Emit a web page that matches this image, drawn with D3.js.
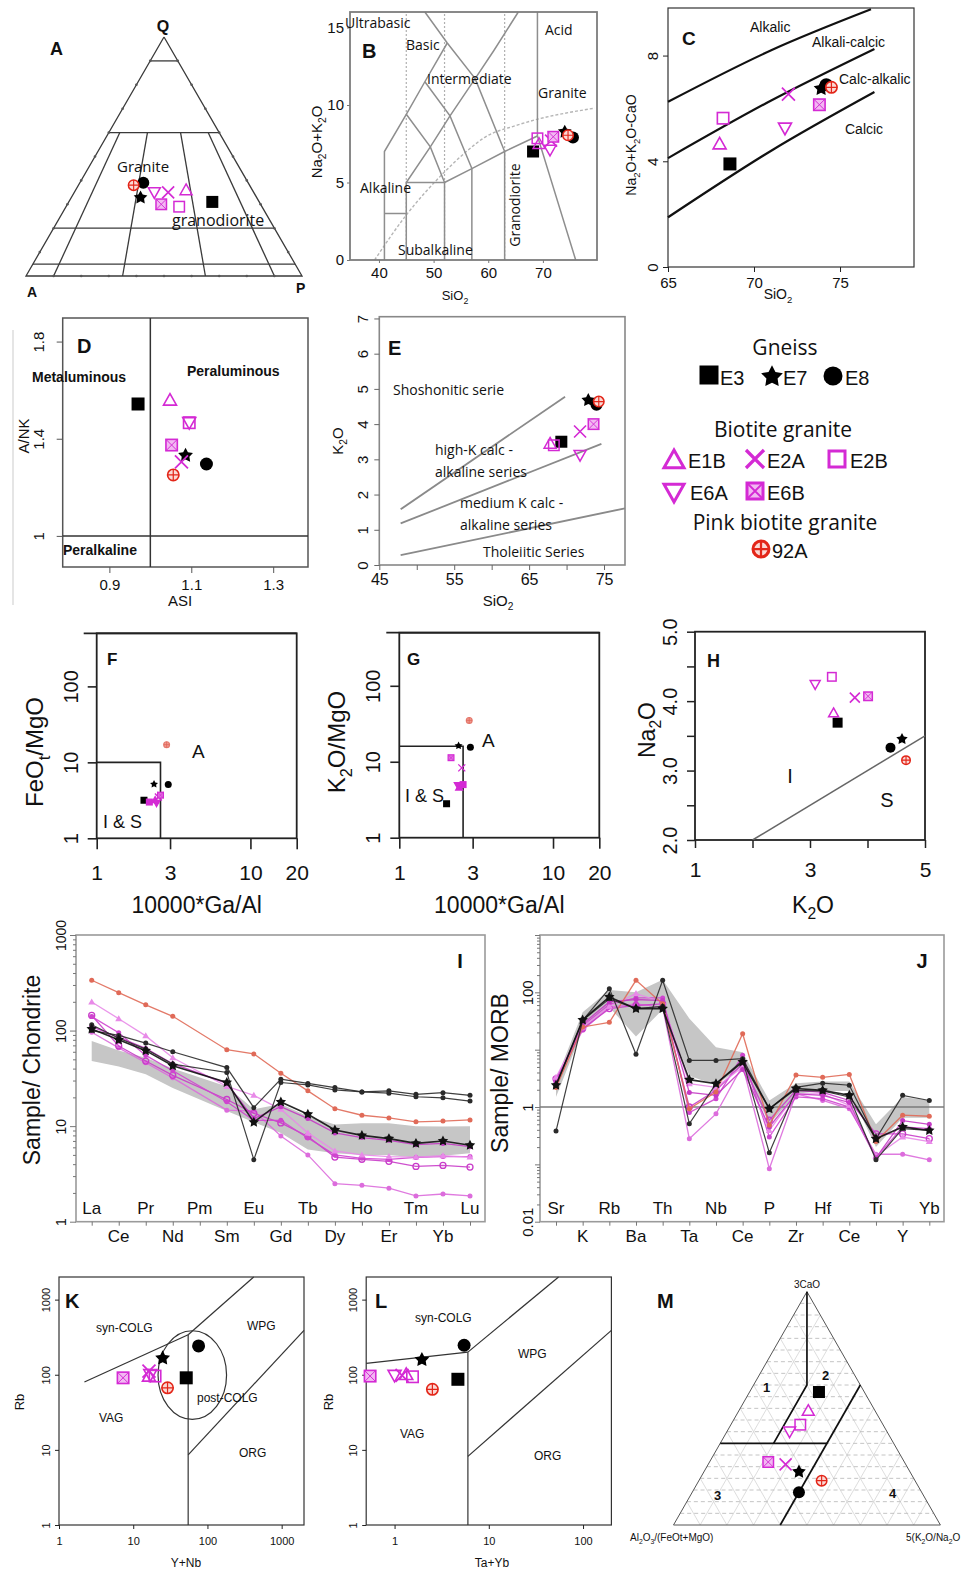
<!DOCTYPE html>
<html><head><meta charset="utf-8">
<script src="https://cdn.jsdelivr.net/npm/d3@7"></script>
<style>body{margin:0;background:#fff}svg{display:block}</style>
</head><body><svg id="c" width="973" height="1571"></svg>
<script>
// ================= DATA =================
const samples = ["E3","E7","E8","E1B","E2A","E2B","E6A","E6B","92A"];
// A: QAP ternary (Q, A, P %)
const qapQ = [31,33,39,36,35,29,35,30,38];
const qapA = [17,42,38,24,31,30,36,36,42];
const qapP = [52,25,23,40,34,41,29,34,20];
const qapHoriz = [90,60,20,5];
const qapRatios = [10,35,65,90];
// B: TAS
const tasSiO2 = [68.2,74.0,75.5,69.3,71.5,69.0,71.3,71.9,74.6];
const tasAlk  = [7.0,8.3,7.9,7.5,7.7,7.85,7.1,7.95,8.05];
const tasDotted = [45,52,63];
const tasLines = [
  [[41,0],[41,7],[45,9.4],[48.4,11.5],[52.5,14]],
  [[48.4,16],[52.5,14],[57.6,11.7],[63,7]],
  [[45,9.4],[49.4,7.3],[52,5]],
  [[48.4,11.5],[53,9.3],[57,5.9]],
  [[41,3],[45,3]],
  [[45,0],[45,5],[52,5],[52,0]],
  [[57,0],[57,5.9]],
  [[63,0],[63,7]],
  [[52,5],[57,5.9],[63,7],[69,8]],
  [[69,16],[69,8],[76,0]],
  [[45,5],[49.4,7.3],[53,9.3],[57.6,11.7],[61,13.5],[65.5,16]]
];
const tasIrvine = [[39.2,0],[45,2.9],[51.5,5.5],[56,7.0],[59.3,7.9],[65.3,8.7],[79.5,9.8]];
// C: MALI
const maliSiO2 = [68.6,73.9,74.2,68.0,72.0,68.2,71.8,73.8,74.5];
const maliVal  = [3.9,6.77,6.9,4.66,6.54,5.63,5.25,6.14,6.8];
const maliBounds = [
  [[65,6.25],[71,8.2],[76.8,9.75]],
  [[65,4.12],[71,6.3],[77,8.25]],
  [[65,1.88],[71,4.4],[77,6.62]]
];
// D: A/NK vs ASI
const asi = [0.970,1.086,1.137,1.048,1.076,1.095,1.095,1.052,1.056];
const ank = [1.543,1.333,1.296,1.559,1.305,1.466,1.466,1.374,1.251];
// E: K2O vs SiO2
const eSiO2 = [69.3,72.9,74.0,67.8,71.8,68.3,71.8,73.6,74.3];
const eK2O  = [3.5,4.69,4.55,3.45,3.79,3.4,3.12,4.0,4.64];
const eBounds = [
  [[47.85,1.58],[69.8,4.78]],
  [[47.85,1.18],[74.65,3.44]],
  [[47.85,0.28],[77.8,1.61]]
];
// F: FeOt/MgO vs 10000*Ga/Al
const fGaAl  = [2.03,2.36,2.92,2.4,2.52,2.2,2.45,2.6,2.85];
const fFeMg  = [3.17,5.2,5.1,3.2,3.5,3.0,2.9,3.7,17.1];
// G: K2O/MgO vs 10000*Ga/Al
const gGaAl  = [2.03,2.43,2.9,2.45,2.55,2.6,2.4,2.17,2.85];
const gKMg   = [2.8,16.4,15.5,4.6,8.3,5.0,4.9,11.3,35];
// H: Na2O vs K2O
const hK2O  = [3.48,4.6,4.4,3.41,3.78,3.38,3.09,4.01,4.67];
const hNa2O = [3.69,3.46,3.33,3.83,4.05,4.35,4.24,4.07,3.15];
const hLine = [[2,2],[5,3.5]];
// I: REE / chondrite
const reeLabels = ["La","Ce","Pr","Nd","Pm","Sm","Eu","Gd","Tb","Dy","Ho","Er","Tm","Yb","Lu"];
const reeE3  = [100,89,74,60,null,41,15.6,31,28,25.3,22.8,23.4,21.5,22.4,21];
const reeE8  = [115,83,64,44.6,null,36.4,4.46,28.6,27,23.9,22.8,22.1,20.3,19.8,18.3];
const reeE7  = [104,80,61.6,42.8,null,28.6,11,17.9,13.3,9.1,8.0,7.4,6.6,7.0,6.3];
const ree92A = [336,249,186,141,null,63,57,35.8,23.4,15.2,13,12.2,11.1,11.3,11.6];
const reeE1B = [199,133,88,52,null,26,21,15,8.5,5.5,5.0,4.8,4.75,4.9,4.75];
const reeE6A = [96,66,46,32,null,14.7,14.4,7.9,5.0,2.5,2.4,2.24,1.86,1.95,1.86];
const reeE2B = [144,69,48,34,null,19,13.6,10.8,7.8,4.75,4.5,4.28,3.79,3.88,3.73];
const reeE6B = [110,85,65,45,null,28,12,16,12,8.5,7.6,7.1,6.4,6.6,6.1];
const reeE2A = [140,95,55,38,null,18,11.5,11.5,7.5,5.0,4.6,4.5,4.7,4.8,4.8];
const reeBandHi = [78,62,52,40,null,26,15,17,12.7,10.4,10.7,10.7,10,9.9,10];
const reeBandLo = [48,42,35,25,null,14.4,11,8.5,5.7,5.2,5.0,5.0,4.7,4.9,5.2];
// J: spider / MORB
const morbLabels = ["Sr","K","Rb","Ba","Th","Ta","Nb","Ce","P","Zr","Hf","Ce","Ti","Y","Yb"];
const morbE3  = [2.4,32.5,116,8.3,162,6.5,6.5,6.97,0.93,2.2,2.6,2.4,0.28,1.6,1.3];
const morbE8  = [0.38,32.5,77,52,57,0.51,2.55,6.5,0.16,1.95,1.9,1.5,0.12,0.42,0.39];
const morbE7  = [2.4,33,83,52,52,3.0,2.55,6.1,0.93,2.1,1.95,1.6,0.28,0.45,0.39];
const morb92A = [2.2,24.9,30,162,63,0.93,1.83,19,0.48,3.6,3.3,3.7,0.25,0.72,0.69];
const morbE1B = [3.3,24.9,57,95,68,2.55,2.2,5.0,0.39,1.7,1.7,1.07,0.14,0.3,0.25];
const morbE6A = [2.9,21.8,55,63,55,0.28,0.76,5.3,0.084,1.7,1.3,0.93,0.15,0.15,0.12];
const morbE2B = [3.1,23.3,52,59,63,1.0,1.95,5.7,0.59,1.95,1.8,1.3,0.34,0.34,0.28];
const morbE6B = [2.6,28,68,75,72,1.8,1.6,4.5,0.45,1.7,1.6,1.2,0.13,0.58,0.5];
const morbE2A = [2.8,26,62,80,80,0.8,1.4,8,0.3,1.5,1.4,1.0,0.13,0.45,0.42];
const morbBandHi = [3.0,45,110,100,165,35,11,9,1.3,2.6,2.8,2.8,0.5,1.5,1.3];
const morbBandLo = [1.5,22,55,17,50,3.5,2.4,5.2,0.5,1.7,1.9,1.9,0.2,0.65,0.65];
// K: Rb vs Y+Nb
const kYNb = [51.8,24.9,76,16.3,16.3,19.7,17,7.3,29];
const kRb  = [91,169,242,96,112,96,100,91,67];
const kLines = [
  [[2.2,80],[55,340]],
  [[55,340],[420,2000]],
  [[55,1],[55,340]],
  [[55,8.6],[2000,390]]
];
const kEllipse = {xmin:21.6, xmax:181, ymin:25.4, ymax:385};
// L: Rb vs Ta+Yb
const lTaYb = [4.7,1.95,5.47,1.33,1.2,1.55,1.0,0.55,2.52];
const lRb   = [87,161,247,101,98,94,98,96,64];
const lLines = [
  [[0.5,142],[6,200]],
  [[6,200],[55,2000]],
  [[6,1],[6,200]],
  [[6,8.2],[200,390]]
];
// M: ternary 3CaO / Al2O3/(FeOt+MgO) / 5(K2O/Na2O)
const mCaO = [57,23,14,49,26,43,40,27,19];
const mKNa = [26,35.5,40,26,29,26,23.5,22,46];
const mAl  = [17,41.5,46,25,45,31,36.5,51,35];
const mBounds = [
  [[100,0],[60,20],[35,20]],
  [[35,0],[35,40]],
  [[60,40],[0,40]]
];

// ================= HELPERS =================
const svg = d3.select("#c");
svg.append("rect").attr("width",973).attr("height",1571).attr("fill","#fff");
const SANS = "'Liberation Sans', Arial, sans-serif";
const CAL = "'Open Sans', 'Noto Sans', sans-serif";
const NAR = "'Liberation Sans Narrow','Liberation Sans',Arial,sans-serif";
const MAG = "#d42ad4", RED = "#e32619";

function txt(g, x, y, s, o={}) {
  const size = o.size||14;
  const t = g.append("text").attr("x",x).attr("y",y).attr("font-family",o.font||SANS)
    .attr("font-size",size).attr("fill",o.fill||"#111").attr("text-anchor",o.anchor||"start");
  if (o.bold) t.attr("font-weight","bold");
  if (o.rot) t.attr("transform",`rotate(-90,${x},${y})`);
  if (Array.isArray(s)) {
    let shift = 0;
    s.forEach(p => {
      const sub = Array.isArray(p);
      const ts = t.append("tspan").text(sub?p[0]:p);
      const want = sub ? size*0.28 : 0;
      if (want !== shift) { ts.attr("dy", want-shift); shift = want; }
      if (sub) ts.attr("font-size", size*0.68);
    });
  } else t.text(s);
  return t;
}
function starPath(cx, cy, R, r) {
  const p = [];
  for (let i=0;i<10;i++){ const a=-Math.PI/2+i*Math.PI/5, rr=i%2?r:R; p.push([cx+rr*Math.cos(a), cy+rr*Math.sin(a)]); }
  return "M"+p.map(d=>d[0].toFixed(2)+","+d[1].toFixed(2)).join("L")+"Z";
}
function marker(g, s, x, y, sz, o={}) {
  const h = sz/2, sw = o.sw || Math.max(1.3, sz/8);
  const mini = o.mini;
  if (s==="E3") g.append("rect").attr("x",x-h).attr("y",y-h).attr("width",sz).attr("height",sz).attr("fill","#000");
  else if (s==="E7") g.append("path").attr("d",starPath(x,y+h*0.08,h*1.2,h*0.62)).attr("fill","#000");
  else if (s==="E8") g.append("circle").attr("cx",x).attr("cy",y).attr("r",h).attr("fill","#000");
  else if (s==="E1B") g.append("path").attr("d",`M${x},${y-h}L${x+h},${y+h*0.78}L${x-h},${y+h*0.78}Z`)
      .attr("fill",mini?MAG:"none").attr("stroke",MAG).attr("stroke-width",sw).attr("stroke-linejoin","miter");
  else if (s==="E6A") g.append("path").attr("d",`M${x},${y+h}L${x+h},${y-h*0.78}L${x-h},${y-h*0.78}Z`)
      .attr("fill",mini?MAG:"none").attr("stroke",MAG).attr("stroke-width",sw);
  else if (s==="E2A") g.append("path").attr("d",`M${x-h},${y-h}L${x+h},${y+h}M${x-h},${y+h}L${x+h},${y-h}`)
      .attr("stroke",MAG).attr("stroke-width",sw*1.1);
  else if (s==="E2B") g.append("rect").attr("x",x-h+sw/2).attr("y",y-h+sw/2).attr("width",sz-sw).attr("height",sz-sw)
      .attr("fill",mini?MAG:"none").attr("stroke",MAG).attr("stroke-width",sw);
  else if (s==="E6B") {
    const q = h-sw/2;
    g.append("rect").attr("x",x-q).attr("y",y-q).attr("width",2*q).attr("height",2*q)
      .attr("fill",mini?"#e070e0":"#f2b8f2").attr("stroke",MAG).attr("stroke-width",sw);
    g.append("path").attr("d",`M${x-q},${y-q}L${x+q},${y+q}M${x-q},${y+q}L${x+q},${y-q}`).attr("stroke",MAG).attr("stroke-width",sw*0.6);
  } else if (s==="92A") {
    const q = h-sw/2;
    if (mini) {
      g.append("circle").attr("cx",x).attr("cy",y).attr("r",q).attr("fill","#f19a90").attr("stroke","#e57a6e").attr("stroke-width",sw);
      g.append("path").attr("d",`M${x-q},${y}L${x+q},${y}M${x},${y-q}L${x},${y+q}`).attr("stroke","#e0685c").attr("stroke-width",0.8);
    } else {
      g.append("circle").attr("cx",x).attr("cy",y).attr("r",q).attr("fill","#fbd8d4").attr("stroke",RED).attr("stroke-width",sw);
      g.append("path").attr("d",`M${x-q},${y}L${x+q},${y}M${x},${y-q}L${x},${y+q}`).attr("stroke",RED).attr("stroke-width",sw*0.75);
    }
  }
}
function axisX(g, scale, y, vals, fmt, o={}) {
  const len=o.len??5, pad=o.pad??3;
  const a = g.append("g").attr("transform",`translate(0,${y})`)
    .call(d3.axisBottom(scale).tickValues(vals).tickFormat(fmt).tickSize(len).tickPadding(pad).tickSizeOuter(0));
  a.select(".domain").remove();
  a.selectAll("line").attr("stroke",o.color||"#222").attr("stroke-width",o.sw||1);
  a.selectAll("text").attr("font-size",o.size||14).attr("font-family",o.font||SANS).attr("fill",o.fill||"#111");
  return a;
}
function axisY(g, scale, x, vals, fmt, o={}) {
  const len=o.len??5, pad=o.pad??3;
  const a = g.append("g").attr("transform",`translate(${x},0)`)
    .call(d3.axisLeft(scale).tickValues(vals).tickFormat(fmt).tickSize(len).tickPadding(pad).tickSizeOuter(0));
  a.select(".domain").remove();
  a.selectAll("line").attr("stroke",o.color||"#222").attr("stroke-width",o.sw||1);
  const t = a.selectAll("text").attr("font-size",o.size||14).attr("font-family",o.font||SANS).attr("fill",o.fill||"#111");
  if (o.rot!==false) t.attr("transform","rotate(-90)").attr("x",0).attr("y",-(len+pad)).attr("dy",0).attr("text-anchor","middle");
  return a;
}
function box(g, xs, ys, color, w) {
  g.append("rect").attr("x",Math.min(...xs)).attr("y",Math.min(...ys))
    .attr("width",Math.abs(xs[1]-xs[0])).attr("height",Math.abs(ys[1]-ys[0]))
    .attr("fill","none").attr("stroke",color).attr("stroke-width",w);
}
function poly(g, line, pts, color, w, dash) {
  const p = g.append("path").attr("d",line(pts)).attr("fill","none").attr("stroke",color).attr("stroke-width",w);
  if (dash) p.attr("stroke-dasharray",dash);
  return p;
}
const idx = d3.range(samples.length);

// ================= A: QAP =================
{
  const g = svg.append("g");
  const tX = d3.scaleLinear([0,100],[26,302]), tY = d3.scaleLinear([0,100],[276,37]);
  const tp = (q,p) => [tX(p+q/2), tY(q)];
  const L = d3.line();
  const col = "#3a3a3a";
  poly(g, L, [tp(100,0),tp(0,0),tp(0,100),tp(100,0)], col, 1.3);
  qapHoriz.forEach(q => poly(g, L, [tp(q,0),tp(q,100-q)], col, 1.3));
  qapRatios.forEach(r => poly(g, L, [tp(60,40*r/100),tp(0,r)], col, 1.3));
  d3.range(1,10).forEach(i => {
    const q=i*10;
    [tp(q,0),tp(q,100-q),tp(0,q)].forEach(p=>g.append("circle").attr("cx",p[0]).attr("cy",p[1]).attr("r",1.3).attr("fill","#555"));
  });
  txt(g,163,32,"Q",{bold:true,size:16,anchor:"middle"});
  txt(g,27,297,"A",{bold:true,size:14});
  txt(g,296,293,"P",{bold:true,size:14});
  txt(g,50,55,"A",{bold:true,size:18});
  txt(g,117,172,"Granite",{font:CAL,size:15});
  txt(g,172,226,"granodiorite",{font:CAL,size:16});
  idx.forEach(i => { const p = tp(qapQ[i], qapP[i]*100/(qapQ[i]+qapA[i]+qapP[i])); marker(g, samples[i], p[0], p[1], 12); });
}

// ================= B: TAS =================
{
  const g = svg.append("g");
  const x = d3.scaleLinear([34.7,79.9],[350,597]), y = d3.scaleLinear([0,16],[260,12]);
  const L = d3.line().x(d=>x(d[0])).y(d=>y(d[1]));
  tasDotted.forEach(v => poly(g, L, [[v,0],[v,16]], "#b0b0b0", 1.2, "2,2"));
  poly(g, d3.line().curve(d3.curveMonotoneX).x(d=>x(d[0])).y(d=>y(d[1])), tasIrvine, "#b5b5b5", 1.4, "3,2");
  tasLines.forEach(l => poly(g, L, l, "#8e8e8e", 1.5));
  box(g, [350,597], [12,260], "#7d7d7d", 1.8);
  axisX(g, x, 260, [40,50,60,70], d=>d, {len:3, pad:4, size:15, color:"#777"});
  axisY(g, y, 350, [0,5,10,15], d=>d, {len:3, pad:3, size:15, rot:false, color:"#777"});
  txt(g,322,142,["Na",["2"],"O+K",["2"],"O"],{rot:true,size:15,anchor:"middle"});
  txt(g,455,300,["SiO",["2"]],{size:13,anchor:"middle"});
  txt(g,345,28,"Ultrabasic",{font:CAL,size:14});
  txt(g,406,50,"Basic",{font:CAL,size:14});
  txt(g,427,84,"Intermediate",{font:CAL,size:14});
  txt(g,545,35,"Acid",{font:CAL,size:14});
  txt(g,538,98,"Granite",{font:CAL,size:14});
  txt(g,360,193,"Alkaline",{font:CAL,size:14});
  txt(g,398,255,"Subalkaline",{font:CAL,size:14});
  txt(g,520,205,"Granodiorite",{font:CAL,size:14,rot:true,anchor:"middle"});
  txt(g,362,58,"B",{bold:true,size:20});
  idx.forEach(i => marker(g, samples[i], x(tasSiO2[i]), y(tasAlk[i]), 12));
}

// ================= C: MALI =================
{
  const g = svg.append("g");
  const x = d3.scaleLinear([65,79.3],[668,914]), y = d3.scaleLinear([0,9.8],[267,8]);
  const L = d3.line().curve(d3.curveMonotoneX).x(d=>x(d[0])).y(d=>y(d[1]));
  box(g, [668,914], [8,267], "#333", 1.2);
  maliBounds.forEach(b => poly(g, L, b, "#111", 2.2));
  axisX(g, x, 267, [65,70,75], d=>d, {len:5, pad:5, size:15});
  axisY(g, y, 668, [0,4,8], d=>d, {len:5, pad:5, size:15});
  txt(g,636,145,["Na",["2"],"O+K",["2"],"O-CaO"],{rot:true,size:14,anchor:"middle"});
  txt(g,778,299,["SiO",["2"]],{size:14,anchor:"middle"});
  txt(g,750,32,"Alkalic",{size:14});
  txt(g,812,47,"Alkali-calcic",{size:14});
  txt(g,839,84,"Calc-alkalic",{size:14});
  txt(g,845,134,"Calcic",{size:14});
  txt(g,682,45,"C",{bold:true,size:19});
  idx.forEach(i => marker(g, samples[i], x(maliSiO2[i]), y(maliVal[i]), 13));
}

// ================= D: A/NK vs ASI =================
{
  const g = svg.append("g");
  const x = d3.scaleLinear([0.786,1.385],[62.7,308]), y = d3.scaleLinear([0.872,1.897],[567,318]);
  const L = d3.line().x(d=>x(d[0])).y(d=>y(d[1]));
  g.append("line").attr("x1",13).attr("x2",13).attr("y1",330).attr("y2",605).attr("stroke","#ddd").attr("stroke-width",1.5);
  box(g, [62.7,308], [318,567], "#555", 1.5);
  poly(g, L, [[1,0.872],[1,1.897]], "#333", 1.5);
  poly(g, L, [[0.786,1],[1.385,1]], "#333", 1.5);
  axisX(g, x, 567, [0.9,1.1,1.3], d=>d.toFixed(1), {len:6, pad:6, size:15, color:"#555"});
  axisY(g, y, 62.7, [1,1.4,1.8], d=>d===1?"1":d.toFixed(1), {len:6, pad:13, size:15, color:"#555"});
  txt(g,29,436,"A/NK",{rot:true,size:15,anchor:"middle"});
  txt(g,180,606,"ASI",{size:15,anchor:"middle"});
  txt(g,77,353,"D",{bold:true,size:20});
  txt(g,32,382,"Metaluminous",{bold:true,size:14});
  txt(g,187,376,"Peraluminous",{bold:true,size:14});
  txt(g,63,555,"Peralkaline",{bold:true,size:14});
  idx.forEach(i => marker(g, samples[i], x(asi[i]), y(ank[i]), 13));
}

// ================= E: K2O vs SiO2 =================
{
  const g = svg.append("g");
  const x = d3.scaleLinear([45,77.8],[379.3,625]), y = d3.scaleLinear([0,7.05],[565,316.7]);
  const L = d3.line().x(d=>x(d[0])).y(d=>y(d[1]));
  box(g, [379.3,625], [316.7,565], "#888", 1.6);
  eBounds.forEach(b => poly(g, L, b, "#8a8a8a", 1.8));
  axisX(g, x, 565, [45,50,55,60,65,70,75], d=>(d-45)%10===0?d:"", {len:5, pad:4, size:16, color:"#666"});
  axisY(g, y, 379.3, [0,1,2,3,4,5,6,7], d=>d, {len:5, pad:6, size:15, color:"#666"});
  txt(g,343,441,["K",["2"],"O"],{rot:true,size:15,anchor:"middle"});
  txt(g,498,606,["SiO",["2"]],{size:15,anchor:"middle"});
  txt(g,393,395,"Shoshonitic serie",{font:CAL,size:14});
  txt(g,435,455,"high-K calc -",{font:CAL,size:14});
  txt(g,435,477,"alkaline series",{font:CAL,size:14});
  txt(g,460,508,"medium K calc -",{font:CAL,size:14});
  txt(g,460,530,"alkaline series",{font:CAL,size:14});
  txt(g,483,557,"Tholeiitic Series",{font:CAL,size:14});
  txt(g,388,355,"E",{bold:true,size:20});
  idx.forEach(i => marker(g, samples[i], x(eSiO2[i]), y(eK2O[i]), 12));
}

// ================= Legend =================
{
  const g = svg.append("g");
  txt(g,785,355,"Gneiss",{font:CAL,size:21,anchor:"middle"});
  marker(g,"E3",709,375,19); txt(g,720,385,"E3",{size:20});
  marker(g,"E7",772,376,19); txt(g,783,385,"E7",{size:20});
  marker(g,"E8",833,376,19); txt(g,845,385,"E8",{size:20});
  txt(g,783,437,"Biotite granite",{font:CAL,size:21,anchor:"middle"});
  marker(g,"E1B",674,460,20,{sw:3}); txt(g,688,468,"E1B",{size:20});
  marker(g,"E2A",755,459,18,{sw:3}); txt(g,767,468,"E2A",{size:20});
  marker(g,"E2B",837,459,19,{sw:3}); txt(g,850,468,"E2B",{size:20});
  marker(g,"E6A",674,492,20,{sw:3}); txt(g,690,500,"E6A",{size:20});
  marker(g,"E6B",755,491,19,{sw:3}); txt(g,767,500,"E6B",{size:20});
  txt(g,785,530,"Pink biotite granite",{font:CAL,size:21,anchor:"middle"});
  marker(g,"92A",761,549,19,{sw:3}); txt(g,772,558,"92A",{size:20});
}

// ================= F & G =================
function whalen(x0, y0, xv, yv, vline, labels) {
  const g = svg.append("g");
  const x = d3.scaleLog([1,20],[x0,x0+200]), y = d3.scaleLog([1,500],[y0+205,y0]);
  const L = d3.line().x(d=>x(d[0])).y(d=>y(d[1]));
  g.append("line").attr("x1",x0-13).attr("x2",x0+200).attr("y1",y0).attr("y2",y0).attr("stroke","#222").attr("stroke-width",1.8);
  box(g,[x0,x0+200],[y0,y0+205],"#222",1.8);
  poly(g, L, [[1,vline],[2.6,vline],[2.6,1]], "#222", 1.6);
  axisX(g, x, y0+205, [1,3,10,20], d=>d, {len:11, pad:16, size:21, sw:1.6});
  axisY(g, y, x0, [1,10,100], d=>d, {len:9, pad:10, size:20, sw:1.6});
  txt(g, x0+100, 913, "10000*Ga/Al", {size:23, anchor:"middle"});
  idx.forEach(i => marker(g, samples[i], x(xv[i]), y(yv[i]), 7, {mini:true, sw:1.2}));
  return {g,x,y};
}
{
  const {g} = whalen(96.7, 633.3, fGaAl, fFeMg, 10);
  txt(g,43,752,["FeO",["t"],"/MgO"],{rot:true,size:24,anchor:"middle"});
  txt(g,107,665,"F",{bold:true,size:17});
  txt(g,192,758,"A",{size:19});
  txt(g,103,828,"I & S",{size:18});
}
{
  const {g} = whalen(399.3, 632.7, gGaAl, gKMg, 16);
  txt(g,345,742,["K",["2"],"O/MgO"],{rot:true,size:24,anchor:"middle"});
  txt(g,407,665,"G",{bold:true,size:17});
  txt(g,482,747,"A",{size:19});
  txt(g,405,802,"I & S",{size:18});
}

// ================= H =================
{
  const g = svg.append("g");
  const x = d3.scaleLinear([1,5],[695,925]), y = d3.scaleLinear([2,5],[840,631.7]);
  const L = d3.line().x(d=>x(d[0])).y(d=>y(d[1]));
  box(g,[695,925],[631.7,840],"#222",1.8);
  poly(g, L, hLine, "#666", 1.5);
  axisX(g, x, 840, [1,2,3,4,5], d=>d%2?d:"", {len:8, pad:14, size:21, sw:1.5});
  axisY(g, y, 695, [2,2.5,3,3.5,4,4.5,5], d=>Number.isInteger(d)?d.toFixed(1):"", {len:8, pad:10, size:20, sw:1.5});
  txt(g,655,730,["Na",["2"],"O"],{rot:true,size:23,anchor:"middle"});
  txt(g,813,913,["K",["2"],"O"],{size:23,anchor:"middle"});
  txt(g,707,667,"H",{bold:true,size:18});
  txt(g,790,783,"I",{size:20,anchor:"middle"});
  txt(g,887,807,"S",{size:20,anchor:"middle"});
  const order = [0,1,2,3,4,5,6,7,8];
  order.forEach(i => marker(g, samples[i], x(hK2O[i]), y(hNa2O[i]), 10, {sw:1.5}));
}

// ================= I & J: spider diagrams =================
const lineStyle = {
  E3:{c:"#2a2a2a",w:1.2,m:"dot"}, E8:{c:"#2a2a2a",w:1.2,m:"dot"}, E7:{c:"#111",w:1.6,m:"star"},
  "92A":{c:"#e06a58",w:1.3,m:"dot"},
  E1B:{c:"#e88ae8",w:1.3,m:"tri"}, E2A:{c:"#cf45cf",w:1.3,m:"dot"}, E2B:{c:"#c93cc9",w:1.3,m:"circ"},
  E6A:{c:"#dc6cdc",w:1.3,m:"dot"}, E6B:{c:"#c43ac4",w:1.3,m:"dot"}
};
function spider(g, x, y, name, vals) {
  const st = lineStyle[name];
  const pts = vals.map((v,i)=>[i,v]).filter(d=>d[1]!=null);
  const L = d3.line().x(d=>x(d[0])).y(d=>y(d[1]));
  poly(g, L, pts, st.c, st.w).attr("opacity",0.9);
  pts.forEach(d => {
    const px=x(d[0]), py=y(d[1]);
    if (st.m==="star") g.append("path").attr("d",starPath(px,py,5.5,2.8)).attr("fill",st.c);
    else if (st.m==="tri") g.append("path").attr("d",`M${px},${py-3.5}L${px+3.5},${py+2.5}L${px-3.5},${py+2.5}Z`).attr("fill",st.c);
    else if (st.m==="circ") g.append("circle").attr("cx",px).attr("cy",py).attr("r",3).attr("fill","none").attr("stroke",st.c).attr("stroke-width",1.3);
    else g.append("circle").attr("cx",px).attr("cy",py).attr("r",2.5).attr("fill",st.c);
  });
}
function band(g, x, y, hi, lo, color) {
  const H = hi.map((v,i)=>[i,v]).filter(d=>d[1]!=null);
  const Lo = lo.map((v,i)=>[i,v]).filter(d=>d[1]!=null);
  const area = d3.area().x(d=>x(d[0])).y0((d,k)=>y(Lo[k][1])).y1(d=>y(d[1]));
  g.append("path").attr("d",area(H)).attr("fill",color).attr("stroke","none");
}
function minorLog(lo, hi) { const out=[]; for (let e=lo;e<hi;e++) for (let k=2;k<10;k++) out.push(k*Math.pow(10,e)); return out; }
{
  const g = svg.append("g");
  const x = d3.scalePoint(d3.range(15),[91.7,470]), y = d3.scaleLog([1,1000],[1221.7,935]);
  band(g, x, y, reeBandHi, reeBandLo, "#c6c6c6");
  box(g,[76,485],[935,1221.7],"#9a9a9a",1.6);
  axisY(g, y, 76, minorLog(0,3), "", {len:3, color:"#777"});
  axisY(g, y, 76, [1,10,100,1000], d=>d, {len:6, pad:4, size:14, color:"#777"});
  axisX(g, x, 1221.7, d3.range(15), "", {len:4, color:"#777"});
  reeLabels.forEach((s,i) => txt(g, x(i), i%2===0?1214:1242, s, {size:17, anchor:"middle"}));
  ["E6A","E2B","E2A","E1B","E6B"].forEach(n => spider(g,x,y,n,{E6A:reeE6A,E2B:reeE2B,E2A:reeE2A,E1B:reeE1B,E6B:reeE6B}[n]));
  spider(g,x,y,"92A",ree92A);
  spider(g,x,y,"E3",reeE3); spider(g,x,y,"E8",reeE8); spider(g,x,y,"E7",reeE7);
  txt(g,40,1070,"Sample/ Chondrite",{rot:true,size:23,anchor:"middle"});
  txt(g,460,968,"I",{bold:true,size:20,anchor:"middle"});
}
{
  const g = svg.append("g");
  const x = d3.scalePoint(d3.range(15),[556,929.3]), y = d3.scaleLog([0.01,1000],[1221.7,935]);
  band(g, x, y, morbBandHi, morbBandLo, "#c6c6c6");
  box(g,[540,944],[935,1221.7],"#9a9a9a",1.6);
  g.append("line").attr("x1",540).attr("x2",944).attr("y1",y(1)).attr("y2",y(1)).attr("stroke","#7a7a7a").attr("stroke-width",1.3);
  axisY(g, y, 540, minorLog(-2,3), "", {len:3, color:"#777"});
  axisY(g, y, 540, [0.01,0.1,1,10,100,1000], d=>[0.01,1,100].includes(d)?String(d):"", {len:5, pad:2, size:15, color:"#777"});
  axisX(g, x, 1221.7, d3.range(15), "", {len:4, color:"#777"});
  morbLabels.forEach((s,i) => txt(g, x(i), i%2===0?1214:1242, s, {size:17, anchor:"middle"}));
  ["E6A","E2B","E2A","E1B","E6B"].forEach(n => spider(g,x,y,n,{E6A:morbE6A,E2B:morbE2B,E2A:morbE2A,E1B:morbE1B,E6B:morbE6B}[n]));
  spider(g,x,y,"92A",morb92A);
  spider(g,x,y,"E3",morbE3); spider(g,x,y,"E8",morbE8); spider(g,x,y,"E7",morbE7);
  txt(g,508,1073,"Sample/ MORB",{rot:true,size:23,anchor:"middle"});
  txt(g,922,968,"J",{bold:true,size:20,anchor:"middle"});
}

// ================= K & L: Pearce =================
function pearce(x0, x1, xdom, xticks, xv, yv, lines) {
  const g = svg.append("g");
  const x = d3.scaleLog(xdom,[x0,x1]), y = d3.scaleLog([1,2000],[1525,1277]);
  const L = d3.line().x(d=>x(d[0])).y(d=>y(d[1]));
  box(g,[x0,x1],[1277,1525],"#333",1.2);
  lines.forEach(l => poly(g, L, l, "#333", 1.2));
  axisX(g, x, 1525, xticks, d=>d, {len:4, pad:8, size:11, font:NAR});
  axisY(g, y, x0, [1,10,100,1000], d=>d, {len:4, pad:5, size:11, font:NAR});
  return {g,x,y};
}
{
  const {g,x,y} = pearce(59,304,[1,2000],[1,10,100,1000],kYNb,kRb,kLines);
  const e = kEllipse;
  const cx=(x(e.xmin)+x(e.xmax))/2, cy=(y(e.ymin)+y(e.ymax))/2;
  g.append("ellipse").attr("cx",cx).attr("cy",cy).attr("rx",(x(e.xmax)-x(e.xmin))/2).attr("ry",(y(e.ymin)-y(e.ymax))/2)
    .attr("fill","none").attr("stroke","#333").attr("stroke-width",1.2);
  txt(g,96,1332,"syn-COLG",{size:12,font:NAR});
  txt(g,247,1330,"WPG",{size:12,font:NAR});
  txt(g,197,1402,"post-COLG",{size:12,font:NAR});
  txt(g,99,1422,"VAG",{size:12,font:NAR});
  txt(g,239,1457,"ORG",{size:12,font:NAR});
  txt(g,65,1308,"K",{bold:true,size:20});
  txt(g,24,1402,"Rb",{rot:true,size:13,anchor:"middle"});
  txt(g,186,1567,"Y+Nb",{size:12,anchor:"middle",font:NAR});
  idx.forEach(i => marker(g, samples[i], x(kYNb[i]), y(kRb[i]), 13));
}
{
  const {g,x,y} = pearce(366.2,611.4,[0.5,200],[1,10,100],lTaYb,lRb,lLines);
  txt(g,415,1322,"syn-COLG",{size:12,font:NAR});
  txt(g,518,1358,"WPG",{size:12,font:NAR});
  txt(g,400,1438,"VAG",{size:12,font:NAR});
  txt(g,534,1460,"ORG",{size:12,font:NAR});
  txt(g,375,1308,"L",{bold:true,size:20});
  txt(g,333,1402,"Rb",{rot:true,size:13,anchor:"middle"});
  txt(g,492,1567,"Ta+Yb",{size:12,anchor:"middle",font:NAR});
  idx.forEach(i => marker(g, samples[i], x(lTaYb[i]), y(lRb[i]), 13));
}

// ================= M: ternary =================
{
  const g = svg.append("g");
  const xM = d3.scaleLinear([0,100],[673.5,940.4]), yM = d3.scaleLinear([0,100],[1525,1291.7]);
  const tp = (c,k) => [xM(k+c/2), yM(c)];
  const L = d3.line();
  d3.range(1,10).forEach(i => {
    const v=i*10;
    poly(g, L, [tp(0,v),tp(100-v,v)], "#d4d4d4", 0.8);
    poly(g, L, [tp(0,100-v),tp(100-v,0)], "#d4d4d4", 0.8);
  });
  d3.range(1,20).forEach(i => { const c=i*5; poly(g, L, [tp(c,0),tp(c,100-c)], "#bdbdbd", 0.9, "4,3"); });
  poly(g, L, [tp(100,0),tp(0,0),tp(0,100),tp(100,0)], "#555", 1);
  mBounds.forEach(b => poly(g, L, b.map(d=>tp(d[0],d[1])), "#111", 1.7));
  txt(g,807,1288,"3CaO",{size:10,anchor:"middle",font:NAR});
  txt(g,630,1541,["Al",["2"],"O",["3"],"/(FeOt+MgO)"],{size:10,font:NAR});
  txt(g,906,1541,["5(K",["2"],"O/Na",["2"],"O"],{size:10,font:NAR});
  txt(g,657,1308,"M",{bold:true,size:20});
  txt(g,763,1392,"1",{bold:true,size:13});
  txt(g,822,1380,"2",{bold:true,size:13});
  txt(g,714,1500,"3",{bold:true,size:13});
  txt(g,889,1498,"4",{bold:true,size:13});
  idx.forEach(i => { const p = tp(mCaO[i], mKNa[i]); marker(g, samples[i], p[0], p[1], 12); });
}
</script></body></html>
